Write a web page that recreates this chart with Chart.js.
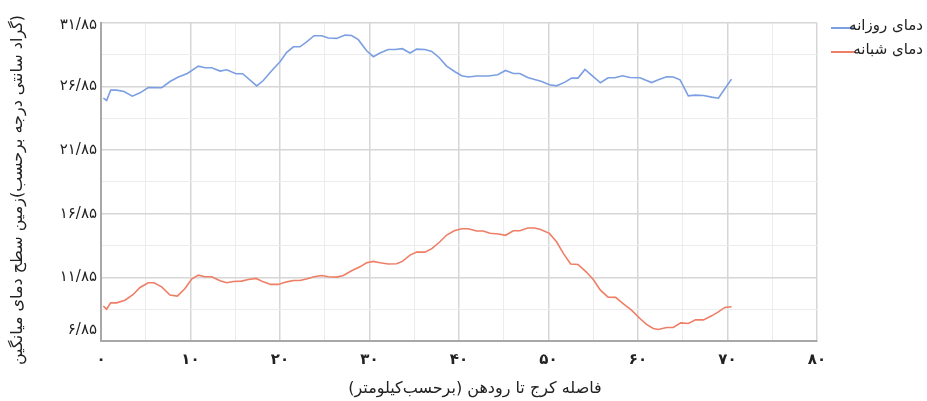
<!DOCTYPE html>
<html>
<head>
<meta charset="utf-8">
<script src="https://cdn.jsdelivr.net/npm/chart.js@4.4.0/dist/chart.umd.min.js"></script>
<style>
  html, body { margin: 0; padding: 0; background: #fff; }
  #wrap { width: 927px; height: 401px; }
</style>
</head>
<body>
<div id="wrap"><canvas id="c" width="927" height="401"></canvas></div>
<script>
// distance from Karaj (km) and mean land surface temperature
const dayKm = [0.26, 0.63, 1.08, 1.75, 2.57, 3.5, 4.36, 5.28, 6.78, 7.71,
  8.64, 9.65, 10.87, 11.62, 12.37, 13.3, 14.04, 15.08, 15.83, 17.4,
  18.13, 19.07, 20.0, 20.75, 21.5, 22.23, 23.05, 23.8, 24.66, 25.4,
  26.33, 27.26, 28.0, 28.75, 29.68, 30.43, 31.17, 32.1, 32.85, 33.67,
  34.53, 35.27, 36.2, 36.95, 37.77, 38.62, 39.55, 40.3, 41.04, 41.97,
  43.27, 44.32, 45.2, 46.07, 46.8, 47.67, 48.45, 49.24, 50.1, 50.9,
  51.84, 52.58, 53.3, 54.07, 55.0, 55.8, 56.66, 57.4, 58.28, 59.1,
  60.22, 61.52, 62.27, 63.2, 63.94, 64.7, 65.62, 66.37, 67.3, 68.24,
  68.98, 69.7, 70.45]
const dayTemp = [25.94, 25.76, 26.57, 26.57, 26.46, 26.1, 26.36, 26.78, 26.76, 27.25,
  27.6, 27.88, 28.46, 28.33, 28.33, 28.07, 28.17, 27.86, 27.86, 26.91,
  27.33, 28.09, 28.8, 29.54, 29.98, 29.98, 30.4, 30.85, 30.85, 30.67,
  30.64, 30.9, 30.87, 30.54, 29.67, 29.2, 29.49, 29.77, 29.77, 29.83,
  29.49, 29.8, 29.77, 29.61, 29.14, 28.46, 28.02, 27.7, 27.6, 27.68,
  27.68, 27.78, 28.12, 27.88, 27.88, 27.57, 27.4, 27.25, 26.99, 26.91,
  27.2, 27.52, 27.52, 28.2, 27.64, 27.15, 27.54, 27.54, 27.7, 27.57,
  27.54, 27.17, 27.38, 27.62, 27.6, 27.38, 26.12, 26.18, 26.15, 26.02,
  25.94, 26.68, 27.44]

const nightKm = [0.26, 0.63, 1.08, 1.75, 2.68, 3.6, 4.36, 5.28, 5.92, 6.78,
  7.71, 8.53, 9.39, 10.13, 10.87, 11.62, 12.37, 13.3, 14.04, 14.78,
  15.72, 16.46, 17.32, 18.13, 18.96, 19.8, 20.75, 21.5, 22.23, 23.05,
  23.8, 24.66, 25.4, 26.33, 27.07, 28.0, 28.93, 29.68, 30.43, 31.17,
  32.1, 33.03, 33.67, 34.53, 35.27, 36.2, 37.0, 37.87, 38.62, 39.47,
  40.3, 41.04, 41.97, 42.7, 43.46, 44.39, 45.2, 46.07, 46.8, 47.67,
  48.4, 49.05, 50.1, 50.9, 51.66, 52.47, 53.3, 54.2, 55.0, 55.8,
  56.66, 57.5, 58.3, 59.27, 60.22, 60.95, 61.71, 62.27, 63.2, 63.94,
  64.77, 65.62, 66.43, 67.3, 68.24, 68.98, 69.7, 70.45]
const nightTemp = [9.59, 9.35, 9.85, 9.85, 10.06, 10.51, 11.06, 11.43, 11.43, 11.11,
  10.46, 10.38, 10.98, 11.72, 12.03, 11.9, 11.9, 11.58, 11.43, 11.53,
  11.56, 11.69, 11.77, 11.5, 11.3, 11.3, 11.5, 11.61, 11.61, 11.74,
  11.9, 12.0, 11.9, 11.87, 12.0, 12.37, 12.68, 13.0, 13.11, 13.0,
  12.9, 12.92, 13.11, 13.6, 13.84, 13.84, 14.13, 14.65, 15.18, 15.52,
  15.68, 15.68, 15.5, 15.5, 15.32, 15.26, 15.16, 15.52, 15.52, 15.73,
  15.73, 15.63, 15.31, 14.65, 13.74, 12.9, 12.87, 12.29, 11.69, 10.85,
  10.3, 10.28, 9.8, 9.28, 8.62, 8.15, 7.83, 7.75, 7.91, 7.91,
  8.27, 8.23, 8.51, 8.51, 8.83, 9.14, 9.49, 9.54]

const xTicks = [0, 5, 10, 15, 20, 25, 30, 35, 40, 45, 50, 55, 60, 65, 70, 75, 80]
const yTicks = [6.85, 9.35, 11.85, 14.35, 16.85, 19.35, 21.85, 24.35, 26.85, 29.35, 31.85]
const yLabelTicks = [6.85, 11.85, 16.85, 21.85, 26.85, 31.85]

const seriesNames = ['دمای روزانه', 'دمای شبانه']
const seriesColors = ['#7b9fe2', '#ee7e65']
const xTitle = 'فاصله کرج تا رودهن (برحسب‌کیلومتر)'
const yTitle = 'میانگین دمای سطح زمین(برحسب درجه سانتی گراد)'

const FONT = "'DejaVu Sans', sans-serif"

function fa(s) {
  return String(s).replace(/[0-9]/g, d => '۰۱۲۳۴۵۶۷۸۹'[d]).replace('.', '/')
}

const isMajorY = v => yLabelTicks.some(t => Math.abs(t - v) < 0.01)

const extras = {
  id: 'extras',
  afterDraw(chart) {
    const ctx = chart.ctx
    const y = chart.scales.y
    const area = chart.chartArea
    ctx.save()
    // y tick labels, kept inside the plot like the original
    ctx.fillStyle = '#222'
    ctx.font = '15px ' + FONT
    ctx.textAlign = 'right'
    ctx.textBaseline = 'middle'
    yLabelTicks.forEach(v => {
      let py = y.getPixelForValue(v)
      if (py > area.bottom - 10) py = area.bottom - 11
      if (py < area.top + 2) py = area.top + 2
      ctx.fillText(fa(v.toFixed(2)), 97, py)
    })
    // axis titles
    ctx.font = '16px ' + FONT
    ctx.textAlign = 'center'
    ctx.fillText(xTitle, 475, 389)
    ctx.save()
    ctx.translate(18, 190)
    ctx.rotate(-Math.PI / 2)
    ctx.font = '16px ' + FONT
    ctx.direction = 'ltr'
    // words laid out left to right (bottom to top), as in the original
    ctx.fillText(yTitle.replace(/([ ()])/g, '\u200E$1\u200E'), 0, 0)
    ctx.restore()
    // legend
    ctx.font = '15px ' + FONT
    ctx.textAlign = 'right'
    seriesNames.forEach((name, i) => {
      const ly = 28 + i * 24
      ctx.strokeStyle = seriesColors[i]
      ctx.lineWidth = 2
      ctx.beginPath()
      ctx.moveTo(831, ly)
      ctx.lineTo(855, ly)
      ctx.stroke()
      ctx.fillStyle = '#222'
      ctx.fillText(name, 923, ly - 2)
    })
    ctx.restore()
  }
}

new Chart(document.getElementById('c'), {
  type: 'line',
  data: {
    datasets: [
      {
        label: seriesNames[0],
        data: dayKm.map((k, i) => ({ x: k, y: dayTemp[i] })),
        borderColor: seriesColors[0],
        borderWidth: 1.6,
        pointRadius: 0,
        tension: 0
      },
      {
        label: seriesNames[1],
        data: nightKm.map((k, i) => ({ x: k, y: nightTemp[i] })),
        borderColor: seriesColors[1],
        borderWidth: 1.6,
        pointRadius: 0,
        tension: 0
      }
    ]
  },
  options: {
    responsive: false,
    animation: false,
    layout: { padding: { top: 23, right: 110, left: 0, bottom: 0 } },
    plugins: { legend: { display: false }, tooltip: { enabled: false } },
    scales: {
      x: {
        type: 'linear',
        min: 0,
        max: 80,
        afterBuildTicks: s => { s.ticks = xTicks.map(v => ({ value: v })) },
        afterFit: s => { s.height = 60 },
        grid: {
          color: c => (c.tick && c.tick.value % 10 === 0) ? '#d6d6d6' : '#ececec',
          lineWidth: c => (c.tick && c.tick.value % 10 === 0) ? 1.5 : 1,
          drawTicks: false
        },
        border: { color: '#a8a8a8', width: 2 },
        ticks: {
          autoSkip: false,
          maxRotation: 0,
          padding: 10,
          color: '#222',
          font: { family: FONT, size: 15, weight: 'bold' },
          callback: v => v % 10 === 0 ? fa(v) : ''
        }
      },
      y: {
        type: 'linear',
        min: 6.85,
        max: 31.85,
        afterBuildTicks: s => { s.ticks = yTicks.map(v => ({ value: v })) },
        afterFit: s => { s.width = 101 },
        grid: {
          color: c => (c.tick && isMajorY(c.tick.value)) ? '#d6d6d6' : '#ececec',
          lineWidth: c => (c.tick && isMajorY(c.tick.value)) ? 1.5 : 1,
          drawTicks: false
        },
        border: { color: '#a8a8a8', width: 2 },
        ticks: { display: false }
      }
    }
  },
  plugins: [extras]
})
</script>
</body>
</html>
